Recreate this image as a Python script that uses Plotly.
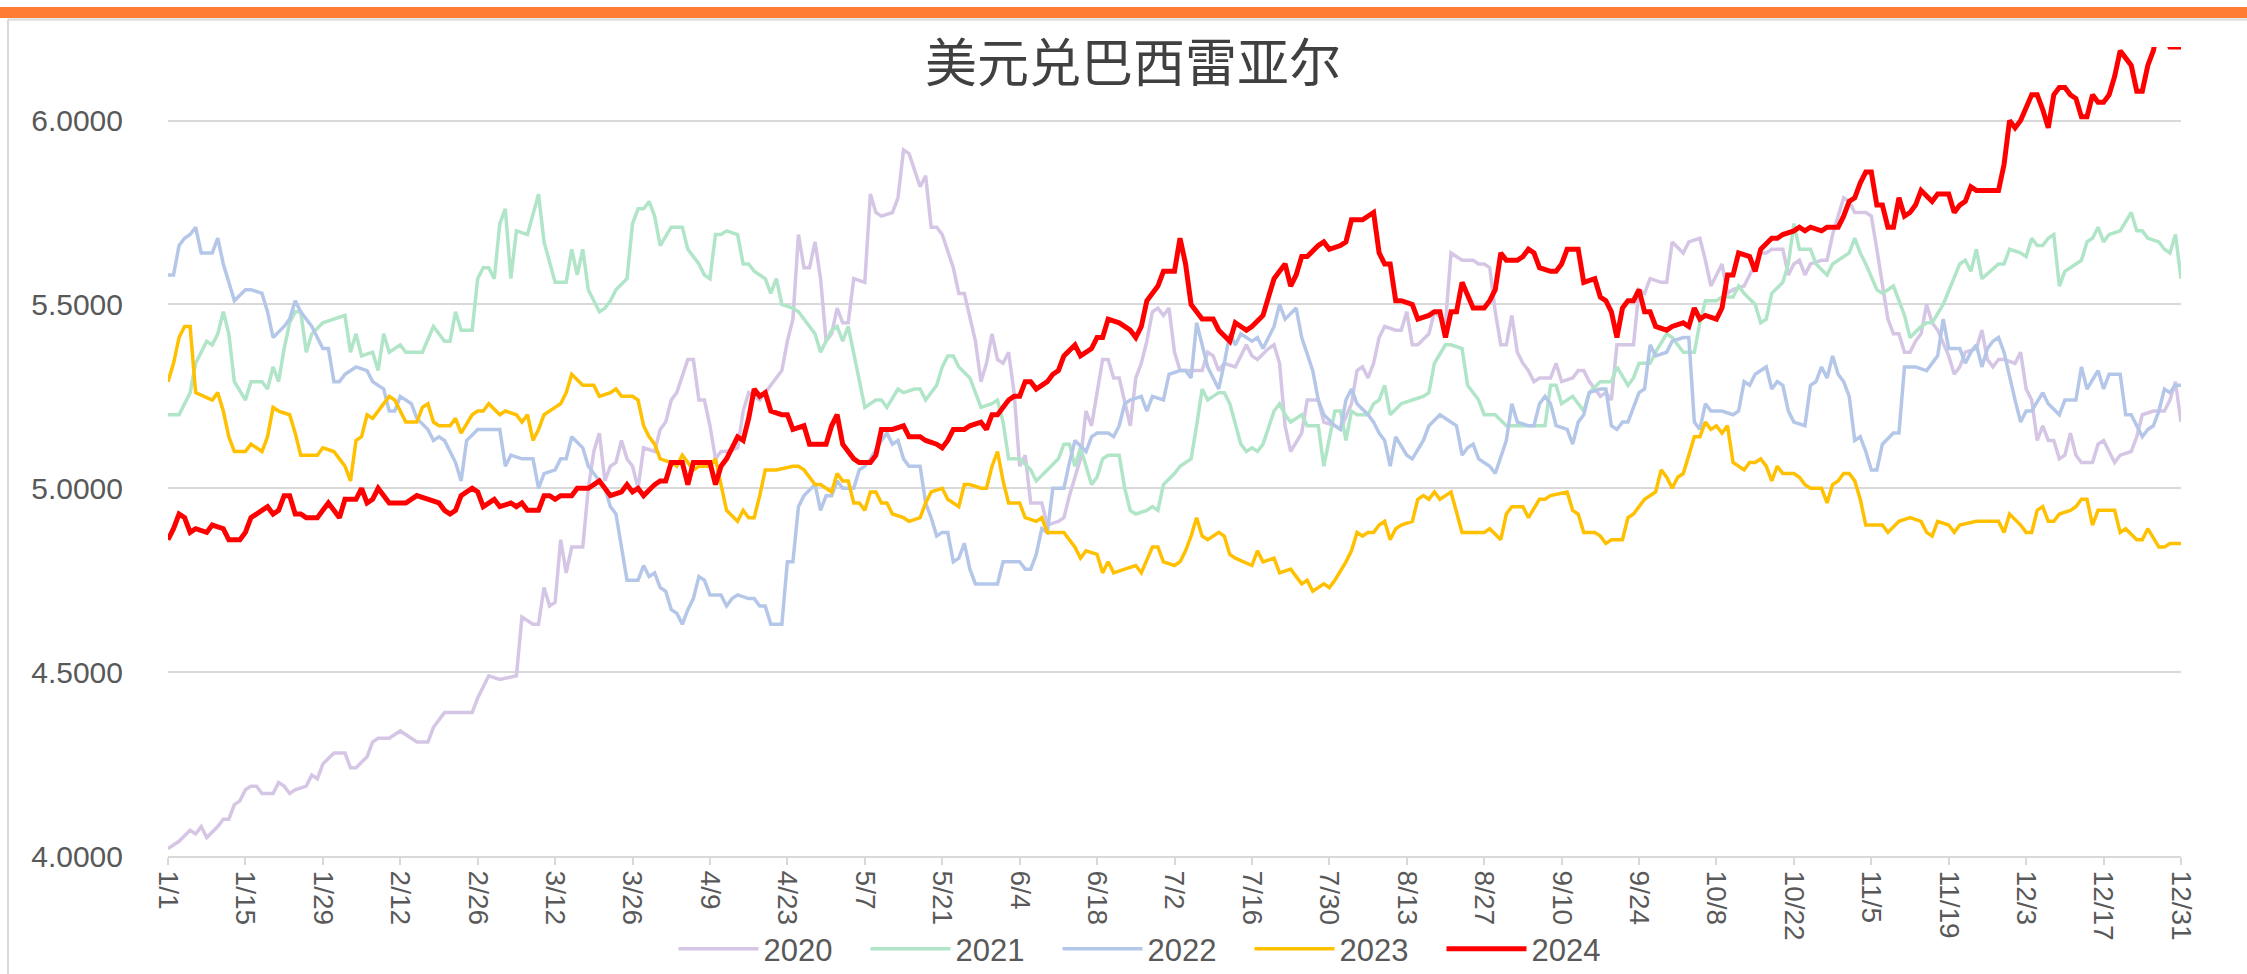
import pandas as pd
import plotly.graph_objects as go

# ---------------- data (day offset from 1/1, value) ----------------
days_2020 = [0,2,4,5,6,7,9,10,11,12,13,14,15,16,17,19,20,21,22,23,25,26,27,28,30,32,33,34,36,37,38,40,42,45,47,48,50,52,55,56,58,60,63,64,66,67,68,69,70,71,72,73,75,76,77,78,79,80,81,82,83,84,85,86,88,89,90,91,92,94,95,96,97,98,99,100,101,103,104,105,107,109,111,112,113,114,115,116,117,118,119,120,121,122,123,124,126,127,128,129,131,132,133,134,136,137,138,139,140,142,143,144,146,147,148,149,150,151,152,153,154,155,156,157,158,159,161,162,163,165,166,167,168,169,170,171,172,173,174,175,176,177,178,179,180,181,182,183,185,187,188,189,190,191,193,195,196,197,199,200,201,202,203,205,206,208,209,211,212,214,215,216,217,218,219,220,222,223,224,225,226,228,229,231,232,234,236,237,238,239,240,241,242,243,244,245,246,247,248,250,251,252,254,255,256,257,259,260,261,262,264,265,266,267,268,270,271,272,274,275,277,278,279,281,282,283,285,286,287,288,289,290,292,293,294,295,296,297,299,300,301,303,304,305,307,308,309,310,311,312,313,314,315,316,317,318,319,320,322,323,324,325,327,328,329,330,331,332,334,335,336,337,338,339,340,341,342,343,344,345,346,347,348,349,350,352,353,355,356,357,359,360,361,362,363,364]
vals_2020 = [4.02,4.04,4.07,4.06,4.08,4.05,4.08,4.10,4.10,4.14,4.15,4.18,4.19,4.19,4.17,4.17,4.20,4.19,4.17,4.18,4.19,4.22,4.21,4.25,4.28,4.28,4.24,4.24,4.27,4.31,4.32,4.32,4.34,4.31,4.31,4.35,4.39,4.39,4.39,4.43,4.49,4.48,4.49,4.65,4.63,4.63,4.73,4.68,4.69,4.86,4.77,4.84,4.84,5.00,5.10,5.15,5.02,5.06,5.07,5.13,5.08,5.06,5.00,5.11,5.10,5.16,5.18,5.24,5.26,5.35,5.35,5.24,5.24,5.17,5.08,5.10,5.10,5.11,5.21,5.26,5.24,5.28,5.32,5.40,5.46,5.69,5.60,5.60,5.67,5.57,5.40,5.42,5.49,5.45,5.45,5.57,5.56,5.80,5.75,5.74,5.75,5.79,5.92,5.91,5.82,5.85,5.71,5.71,5.69,5.60,5.53,5.53,5.40,5.29,5.34,5.42,5.35,5.34,5.37,5.26,5.06,5.09,4.96,4.96,4.96,4.90,4.91,4.92,4.98,5.08,5.21,5.17,5.26,5.35,5.35,5.30,5.30,5.23,5.17,5.30,5.34,5.40,5.48,5.49,5.47,5.49,5.37,5.32,5.32,5.32,5.37,5.36,5.32,5.34,5.33,5.39,5.36,5.35,5.38,5.39,5.34,5.17,5.10,5.15,5.24,5.24,5.18,5.17,5.16,5.23,5.32,5.33,5.30,5.34,5.41,5.44,5.43,5.43,5.48,5.39,5.39,5.42,5.48,5.45,5.64,5.62,5.62,5.61,5.61,5.60,5.48,5.39,5.39,5.47,5.37,5.34,5.32,5.29,5.30,5.30,5.34,5.29,5.30,5.32,5.32,5.29,5.25,5.26,5.24,5.39,5.39,5.39,5.54,5.53,5.57,5.56,5.56,5.67,5.64,5.67,5.68,5.62,5.55,5.61,5.53,5.54,5.55,5.58,5.61,5.64,5.64,5.65,5.65,5.58,5.61,5.62,5.58,5.61,5.62,5.62,5.69,5.79,5.78,5.75,5.75,5.74,5.65,5.55,5.46,5.42,5.42,5.37,5.37,5.40,5.42,5.50,5.45,5.43,5.36,5.31,5.33,5.37,5.38,5.43,5.35,5.33,5.35,5.35,5.34,5.37,5.27,5.24,5.13,5.17,5.13,5.13,5.08,5.09,5.15,5.09,5.07,5.07,5.07,5.12,5.13,5.07,5.09,5.10,5.14,5.20,5.21,5.21,5.21,5.24,5.29,5.18]

days_2021 = [0,2,4,5,7,8,9,10,11,12,14,15,17,18,19,20,21,22,23,24,25,26,28,30,32,33,34,35,37,38,39,40,42,43,46,48,50,51,52,53,55,56,57,58,59,60,61,62,63,65,67,68,70,72,73,74,75,76,78,79,80,81,83,84,85,86,87,88,89,91,93,94,96,97,98,99,100,101,103,104,105,106,108,109,110,111,113,114,117,118,120,121,122,123,124,125,126,128,129,130,132,133,135,136,137,139,140,141,142,143,145,147,149,150,151,152,154,156,157,159,161,162,163,164,165,167,168,169,170,172,173,174,175,177,178,179,180,182,183,184,185,186,187,188,190,191,192,194,195,196,197,198,200,201,202,203,205,206,208,209,211,212,213,214,215,217,218,219,220,221,223,225,227,228,229,231,232,234,235,237,238,240,242,244,245,247,249,250,251,252,254,256,257,259,261,262,264,265,266,268,269,271,272,274,276,277,278,280,281,283,284,285,287,288,289,290,292,293,294,295,297,298,300,301,303,304,305,306,307,309,310,312,313,314,315,317,318,319,321,323,324,325,326,327,328,331,332,333,335,336,337,338,339,340,341,342,343,345,346,347,348,349,350,351,353,355,356,357,358,360,361,362,363,364]
vals_2021 = [5.20,5.20,5.26,5.34,5.40,5.39,5.42,5.48,5.42,5.29,5.24,5.29,5.29,5.27,5.33,5.29,5.38,5.45,5.48,5.48,5.37,5.42,5.45,5.46,5.47,5.37,5.42,5.36,5.37,5.32,5.42,5.37,5.39,5.37,5.37,5.44,5.40,5.40,5.48,5.43,5.43,5.57,5.60,5.60,5.57,5.72,5.76,5.57,5.70,5.69,5.80,5.67,5.56,5.56,5.65,5.58,5.65,5.54,5.48,5.49,5.51,5.54,5.57,5.72,5.76,5.76,5.78,5.74,5.66,5.71,5.71,5.65,5.61,5.58,5.57,5.69,5.69,5.70,5.69,5.61,5.61,5.59,5.57,5.53,5.57,5.50,5.49,5.48,5.42,5.37,5.43,5.44,5.40,5.44,5.37,5.29,5.22,5.24,5.24,5.22,5.27,5.26,5.27,5.27,5.24,5.28,5.33,5.36,5.36,5.33,5.30,5.22,5.23,5.24,5.18,5.08,5.08,5.05,5.02,5.05,5.08,5.12,5.12,5.06,5.11,5.01,5.03,5.08,5.09,5.09,5.00,4.94,4.93,4.94,4.95,4.94,5.01,5.04,5.06,5.07,5.08,5.17,5.27,5.24,5.26,5.26,5.23,5.12,5.10,5.11,5.10,5.12,5.21,5.23,5.20,5.18,5.20,5.17,5.17,5.06,5.21,5.21,5.13,5.21,5.20,5.20,5.23,5.24,5.28,5.20,5.23,5.24,5.25,5.26,5.34,5.39,5.39,5.38,5.28,5.24,5.20,5.20,5.17,5.17,5.17,5.17,5.17,5.28,5.28,5.23,5.25,5.21,5.26,5.29,5.29,5.33,5.28,5.30,5.34,5.34,5.37,5.42,5.41,5.37,5.37,5.45,5.51,5.51,5.52,5.52,5.55,5.53,5.50,5.45,5.46,5.53,5.56,5.61,5.72,5.65,5.65,5.61,5.58,5.61,5.63,5.64,5.68,5.64,5.61,5.54,5.53,5.55,5.51,5.47,5.41,5.44,5.45,5.45,5.50,5.57,5.61,5.62,5.59,5.65,5.57,5.61,5.61,5.65,5.64,5.63,5.68,5.66,5.66,5.68,5.69,5.55,5.59,5.61,5.62,5.67,5.68,5.71,5.67,5.69,5.70,5.75,5.70,5.70,5.68,5.67,5.65,5.64,5.69,5.57]

days_2022 = [0,1,2,3,4,5,6,8,9,10,11,12,14,15,17,18,19,21,22,23,24,26,27,28,29,30,31,32,34,36,37,39,40,41,42,44,45,47,48,49,50,51,52,53,54,56,58,60,61,62,64,65,66,67,68,70,71,72,73,75,76,77,78,79,80,81,82,83,85,86,87,88,89,90,91,92,93,94,95,96,97,98,100,101,102,103,105,106,107,108,109,110,111,112,113,114,115,117,118,119,120,121,122,124,125,126,127,129,130,131,132,133,134,136,137,138,139,140,141,142,143,144,145,146,148,149,150,151,152,154,155,156,157,158,159,160,161,162,163,164,166,167,168,170,171,172,173,174,176,177,178,180,181,183,184,185,186,187,188,189,190,191,192,193,194,196,197,198,199,200,201,202,204,205,207,208,209,211,212,213,214,215,217,218,219,220,221,222,224,225,227,228,230,232,233,234,235,236,237,239,240,242,243,244,246,247,248,249,250,251,253,254,255,256,257,259,260,261,262,263,264,266,267,268,269,271,272,274,275,276,277,278,279,280,281,283,284,285,286,287,289,290,291,292,293,294,296,297,298,299,300,301,302,303,304,305,306,307,308,309,310,312,313,314,315,316,318,319,320,321,322,324,325,326,327,328,329,330,331,332,333,334,335,336,337,339,340,342,343,344,345,346,347,349,350,351,353,354,355,357,358,359,360,361,362,363,364]
vals_2022 = [5.58,5.58,5.66,5.68,5.69,5.71,5.64,5.64,5.68,5.61,5.56,5.51,5.54,5.54,5.53,5.48,5.41,5.44,5.46,5.51,5.48,5.44,5.41,5.38,5.38,5.29,5.29,5.31,5.33,5.32,5.29,5.27,5.21,5.21,5.25,5.23,5.19,5.16,5.13,5.14,5.13,5.10,5.07,5.02,5.13,5.16,5.16,5.16,5.06,5.09,5.08,5.08,5.08,5.00,5.04,5.05,5.08,5.08,5.14,5.11,5.06,5.04,5.02,5.00,4.95,4.93,4.84,4.75,4.75,4.79,4.76,4.77,4.73,4.72,4.67,4.66,4.63,4.67,4.70,4.76,4.75,4.71,4.71,4.68,4.70,4.71,4.70,4.70,4.68,4.68,4.63,4.63,4.63,4.80,4.80,4.95,4.98,5.01,4.94,4.98,4.98,5.02,5.00,5.00,5.05,5.06,5.08,5.13,5.15,5.12,5.13,5.08,5.06,5.06,4.96,4.92,4.87,4.88,4.88,4.80,4.81,4.85,4.78,4.74,4.74,4.74,4.74,4.80,4.80,4.80,4.78,4.78,4.82,4.89,4.88,5.00,5.00,5.00,5.07,5.13,5.10,5.14,5.15,5.15,5.14,5.17,5.23,5.24,5.25,5.21,5.25,5.24,5.31,5.32,5.32,5.30,5.45,5.39,5.33,5.30,5.27,5.34,5.42,5.39,5.42,5.40,5.41,5.38,5.41,5.44,5.50,5.46,5.49,5.41,5.32,5.24,5.20,5.17,5.16,5.24,5.27,5.23,5.20,5.18,5.15,5.13,5.06,5.14,5.09,5.08,5.13,5.17,5.20,5.18,5.17,5.09,5.11,5.12,5.08,5.06,5.04,5.13,5.23,5.18,5.17,5.17,5.23,5.25,5.23,5.17,5.16,5.12,5.18,5.20,5.26,5.27,5.27,5.17,5.16,5.18,5.18,5.26,5.27,5.39,5.36,5.37,5.40,5.41,5.41,5.18,5.16,5.23,5.21,5.21,5.21,5.20,5.21,5.29,5.28,5.31,5.33,5.27,5.29,5.28,5.21,5.18,5.17,5.28,5.29,5.33,5.30,5.36,5.31,5.29,5.25,5.13,5.14,5.10,5.05,5.05,5.12,5.15,5.15,5.33,5.33,5.33,5.32,5.34,5.36,5.46,5.38,5.38,5.34,5.37,5.39,5.33,5.38,5.40,5.41,5.37,5.30,5.24,5.18,5.21,5.21,5.26,5.23,5.20,5.24,5.24,5.24,5.33,5.27,5.32,5.27,5.31,5.31,5.20,5.20,5.14,5.16,5.17,5.21,5.27,5.26,5.28,5.28]

days_2023 = [0,1,2,3,4,5,8,9,10,11,12,14,15,17,18,19,20,22,23,24,26,27,28,30,31,32,33,34,35,36,37,39,40,41,42,43,45,46,47,48,49,51,52,53,55,56,57,58,60,61,63,64,65,66,67,68,70,71,72,73,75,76,77,78,80,81,82,84,85,86,87,88,89,91,92,93,95,96,97,98,99,100,101,103,104,105,106,107,108,110,113,114,115,117,118,119,120,121,122,123,124,125,126,127,128,129,130,131,133,134,136,137,138,140,141,143,144,145,147,148,149,150,151,152,154,155,157,158,159,162,163,164,165,166,168,169,170,171,173,175,176,178,179,180,182,183,184,185,186,187,188,190,191,192,193,196,197,198,200,201,203,205,206,207,209,210,211,213,214,215,216,217,218,219,220,221,222,223,225,226,227,228,229,230,231,232,234,236,238,239,241,242,243,245,246,248,249,250,253,254,255,256,258,259,260,261,263,264,265,266,267,269,270,271,272,273,274,275,276,277,278,279,280,281,282,283,285,286,287,288,289,290,291,292,294,295,296,297,299,300,301,302,303,304,305,306,307,308,310,311,313,315,317,318,319,320,322,323,324,327,329,331,332,333,335,336,337,338,339,340,341,342,344,345,346,347,348,349,352,353,354,356,357,358,360,361,362,364]
vals_2023 = [5.29,5.34,5.41,5.44,5.44,5.26,5.24,5.26,5.21,5.14,5.10,5.10,5.12,5.10,5.14,5.22,5.21,5.20,5.15,5.09,5.09,5.09,5.11,5.10,5.08,5.06,5.02,5.13,5.14,5.20,5.19,5.23,5.25,5.24,5.21,5.18,5.18,5.22,5.23,5.18,5.17,5.17,5.19,5.15,5.20,5.21,5.21,5.23,5.20,5.21,5.20,5.18,5.20,5.13,5.16,5.20,5.22,5.23,5.26,5.31,5.28,5.28,5.28,5.25,5.26,5.27,5.25,5.25,5.24,5.17,5.14,5.12,5.08,5.07,5.06,5.09,5.05,5.06,5.06,5.06,5.08,5.01,4.94,4.91,4.94,4.92,4.92,4.98,5.05,5.05,5.06,5.06,5.05,5.01,5.01,5.00,4.99,5.04,5.02,5.02,4.96,4.96,4.94,4.99,4.99,4.96,4.96,4.93,4.92,4.91,4.92,4.96,4.99,5.00,4.97,4.95,5.01,5.01,5.00,5.00,5.06,5.10,5.02,4.96,4.96,4.92,4.91,4.92,4.88,4.88,4.86,4.84,4.81,4.83,4.82,4.77,4.80,4.77,4.78,4.79,4.77,4.84,4.84,4.80,4.79,4.80,4.83,4.87,4.92,4.87,4.86,4.88,4.87,4.82,4.81,4.79,4.83,4.80,4.81,4.77,4.78,4.74,4.75,4.72,4.74,4.73,4.75,4.80,4.83,4.88,4.87,4.88,4.88,4.90,4.91,4.86,4.89,4.90,4.91,4.97,4.98,4.97,4.99,4.97,4.98,4.99,4.88,4.88,4.88,4.89,4.86,4.93,4.95,4.95,4.92,4.97,4.97,4.98,4.99,4.94,4.93,4.88,4.88,4.87,4.85,4.86,4.86,4.92,4.93,4.95,4.97,4.99,5.05,5.03,5.00,5.03,5.04,5.09,5.14,5.14,5.18,5.16,5.17,5.15,5.17,5.07,5.05,5.07,5.07,5.08,5.06,5.02,5.06,5.04,5.04,5.03,5.01,5.00,5.00,4.96,5.01,5.02,5.04,5.04,5.02,4.97,4.90,4.90,4.90,4.88,4.91,4.92,4.91,4.88,4.87,4.91,4.90,4.88,4.90,4.91,4.91,4.91,4.88,4.93,4.90,4.88,4.88,4.94,4.95,4.91,4.91,4.93,4.94,4.95,4.97,4.97,4.90,4.94,4.94,4.88,4.89,4.86,4.86,4.89,4.84,4.84,4.85,4.85]

days_2024 = [0,1,2,3,4,5,7,8,10,11,13,14,15,16,18,19,20,21,22,23,24,25,27,28,29,30,31,32,34,35,36,37,38,40,43,45,47,49,50,51,52,53,55,56,57,59,60,62,63,64,65,67,68,69,70,71,73,74,76,77,78,79,80,82,83,84,85,86,88,89,90,91,93,94,95,97,98,99,100,101,103,104,105,106,107,108,109,111,112,113,115,116,119,120,121,122,124,125,127,128,129,131,133,134,136,137,139,140,141,142,144,145,147,148,149,150,152,153,154,155,156,157,159,160,161,162,164,165,166,167,168,169,170,172,174,175,176,177,179,180,182,183,184,185,186,187,189,190,192,193,194,195,196,198,199,200,201,202,203,204,205,206,208,209,210,212,213,214,216,217,218,219,220,221,222,223,225,226,228,229,230,231,232,233,234,236,238,239,240,241,242,244,245,246,247,248,250,251,252,253,255,256,258,259,260,261,262,263,264,265,266,267,268,269,271,272,274,275,276,277,278,280,281,282,283,284,286,287,288,290,291,292,294,295,296,297,299,300,302,303,304,305,306,307,308,309,310,311,312,313,314,315,316,317,319,320,322,323,324,325,326,327,328,330,331,332,333,334,335,337,338,339,340,341,342,343,344,345,346,347,348,349,350,351,352,353,355,356,357,358,359,360,362,364]
vals_2024 = [4.86,4.89,4.93,4.92,4.88,4.89,4.88,4.90,4.89,4.86,4.86,4.88,4.92,4.93,4.95,4.93,4.94,4.98,4.98,4.93,4.93,4.92,4.92,4.94,4.96,4.94,4.92,4.97,4.97,5.00,4.96,4.97,5.00,4.96,4.96,4.98,4.97,4.96,4.94,4.93,4.94,4.98,5.00,4.99,4.95,4.97,4.95,4.96,4.95,4.96,4.94,4.94,4.98,4.98,4.97,4.98,4.98,5.00,5.00,5.01,5.02,5.00,4.98,4.99,5.01,4.99,5.00,4.98,5.01,5.02,5.02,5.07,5.07,5.01,5.07,5.07,5.07,5.01,5.06,5.08,5.14,5.13,5.19,5.27,5.25,5.26,5.21,5.20,5.20,5.16,5.17,5.12,5.12,5.17,5.20,5.12,5.08,5.07,5.07,5.09,5.16,5.16,5.17,5.14,5.14,5.13,5.12,5.11,5.13,5.16,5.16,5.17,5.18,5.16,5.20,5.20,5.24,5.25,5.25,5.29,5.29,5.27,5.29,5.31,5.32,5.36,5.39,5.36,5.37,5.38,5.41,5.41,5.46,5.45,5.43,5.41,5.44,5.51,5.55,5.59,5.59,5.68,5.61,5.50,5.48,5.46,5.46,5.43,5.40,5.45,5.44,5.43,5.44,5.47,5.52,5.57,5.59,5.61,5.55,5.58,5.63,5.63,5.66,5.67,5.65,5.66,5.67,5.73,5.73,5.74,5.75,5.64,5.61,5.61,5.51,5.51,5.50,5.46,5.47,5.48,5.48,5.41,5.48,5.48,5.56,5.49,5.49,5.51,5.54,5.64,5.62,5.62,5.63,5.65,5.64,5.60,5.59,5.59,5.61,5.65,5.65,5.56,5.57,5.52,5.51,5.48,5.41,5.49,5.51,5.51,5.54,5.48,5.48,5.44,5.43,5.44,5.45,5.44,5.49,5.46,5.47,5.46,5.49,5.58,5.58,5.64,5.63,5.59,5.65,5.68,5.68,5.69,5.70,5.71,5.70,5.71,5.70,5.71,5.71,5.74,5.78,5.79,5.83,5.86,5.86,5.77,5.77,5.71,5.71,5.79,5.74,5.75,5.77,5.81,5.78,5.80,5.80,5.75,5.77,5.78,5.82,5.81,5.81,5.81,5.81,5.88,6.00,5.98,6.00,6.07,6.07,6.03,5.98,6.07,6.09,6.09,6.07,6.06,6.01,6.01,6.07,6.05,6.05,6.07,6.12,6.19,6.15,6.08,6.08,6.15,6.19,6.26,6.20,6.20,6.20]

years = ["2020", "2021", "2022", "2023", "2024"]
tick_labels = ["1/1","1/15","1/29","2/12","2/26","3/12","3/26","4/9","4/23","5/7","5/21","6/4","6/18",
               "7/2","7/16","7/30","8/13","8/27","9/10","9/24","10/8","10/22","11/5","11/19","12/3","12/17","12/31"]

# ---------------- figure ----------------
W, H = 2247, 974
ML, MR, MT, MB = 168, 66, 47, 118
PW, PH = W - ML - MR, H - MT - MB

base = pd.Timestamp("2023-01-01")
def to_dates(days):
    return [base + pd.Timedelta(days=int(d)) for d in days]

series = {
    "2020": (days_2020, vals_2020, "#D5C6E6", 3.5),
    "2021": (days_2021, vals_2021, "#B0E5C8", 3.5),
    "2022": (days_2022, vals_2022, "#B4C7E9", 3.5),
    "2023": (days_2023, vals_2023, "#FFC000", 3.5),
    "2024": (days_2024, vals_2024, "#FF0000", 5),
}

fig = go.Figure()
for y in years:
    d, v, c, w = series[y]
    fig.add_trace(go.Scatter(x=to_dates(d), y=v, mode="lines", name=y,
                             line=dict(color=c, width=w)))

tickvals = [base + pd.Timedelta(days=14 * i) for i in range(26)] + [pd.Timestamp("2023-12-31")]

def px_x(px):
    return (px - ML) / PW
def px_y(py):
    return (H - MB - py) / PH

shapes = [
    dict(type="rect", xref="paper", yref="paper", x0=px_x(0), x1=px_x(W), y0=px_y(18), y1=px_y(7),
         fillcolor="#FF7C33", line=dict(width=0), layer="above"),
    dict(type="line", xref="paper", yref="paper", x0=px_x(8), x1=px_x(W), y0=px_y(19.5), y1=px_y(19.5),
         line=dict(color="#D9D9D9", width=2)),
    dict(type="line", xref="paper", yref="paper", x0=px_x(8), x1=px_x(8), y0=px_y(19.5), y1=px_y(H),
         line=dict(color="#D9D9D9", width=2)),
]

fig.update_layout(
    width=W, height=H,
    margin=dict(l=ML, r=MR, t=MT, b=MB, autoexpand=False),
    paper_bgcolor="white", plot_bgcolor="white",
    title=dict(text="美元兑巴西雷亚尔", x=1133 / W, xanchor="center", y=1 - 64 / H, yanchor="middle",
               yref="container", font=dict(family="Noto Sans CJK SC", size=52, color="#404040")),
    font=dict(family="Liberation Sans", color="#595959", size=28),
    showlegend=True,
    legend=dict(orientation="h", x=(0.5 * (685 + 1598) + 12) / W, xref="container", xanchor="center",
                y=1 - 949 / H, yref="container", yanchor="middle",
                font=dict(size=31, color="#595959"), itemwidth=80, entrywidth=97,
                bgcolor="rgba(0,0,0,0)"),
    shapes=shapes,
    xaxis=dict(type="date", range=[base, pd.Timestamp("2023-12-31")], tickvals=tickvals, ticktext=tick_labels,
               tickangle=90, showgrid=False, showline=True, linecolor="#D9D9D9", linewidth=2,
               ticks="outside", tickcolor="#D9D9D9", ticklen=7, tickwidth=2,
               tickfont=dict(size=28, color="#595959"), zeroline=False),
    yaxis=dict(range=[4.0, 6.2], dtick=0.5, tick0=4.0, tickformat=".4f", showgrid=True,
               gridcolor="#D9D9D9", gridwidth=1.5, zeroline=False, showline=False,
               ticks="", ticklabelstandoff=44, tickfont=dict(size=30, color="#595959")),
)

fig.write_html("out.html", config={"displayModeBar": False},
               post_script="document.body.style.margin='0';document.body.style.overflow='hidden';")
